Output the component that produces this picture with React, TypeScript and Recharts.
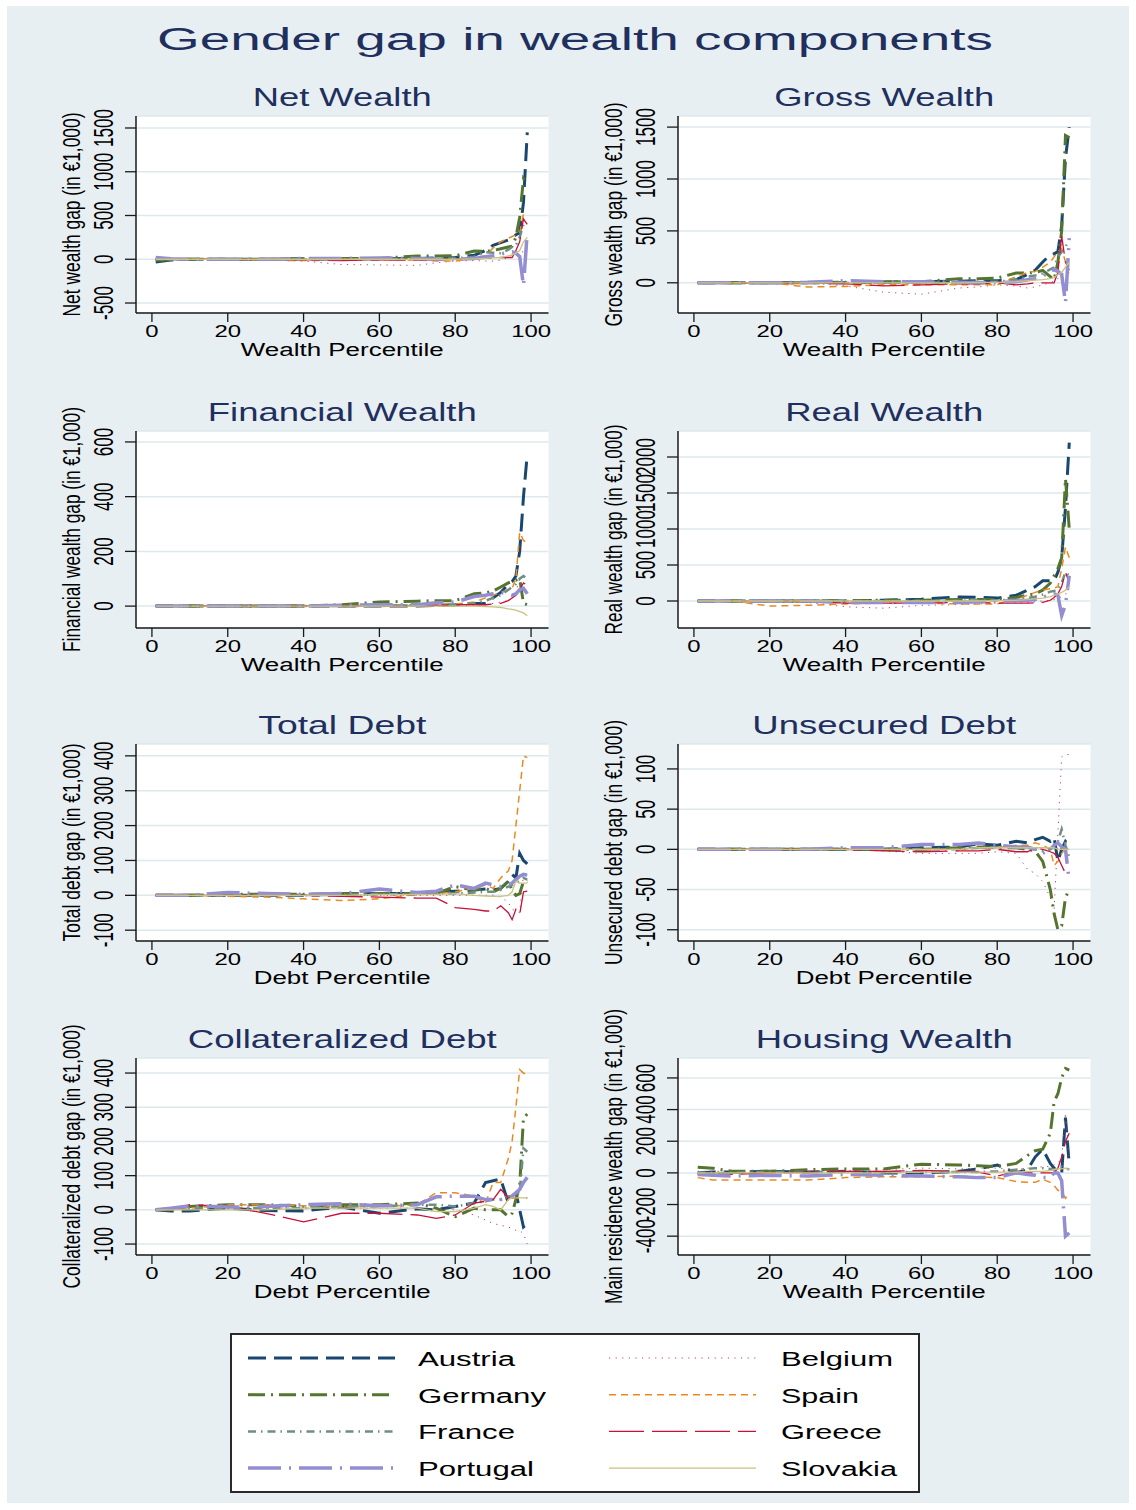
import React from 'react';
import { LineChart, Line, XAxis, YAxis, CartesianGrid } from 'recharts';

// Percentile grid shared by every panel
const PCT = [1, 5, 10, 20, 30, 40, 50, 60, 70, 75, 80, 85, 88, 90, 92, 94, 95, 96, 97, 98, 99];
const X_TICKS = [0, 20, 40, 60, 80, 100];

// Drawing order of the country series
const COUNTRIES = ['Austria', 'Belgium', 'Germany', 'Spain', 'France', 'Greece', 'Portugal', 'Slovakia'];

type Table = Record<string, number[]>;

// Gender gap in net wealth (in €1,000) by wealth percentile
const netWealth: Table = {
  Austria: [-30, -8, 0, 0, 0, 5, 0, 5, 10, 15, 20, 45, 100, 160, 190, 220, 250, 280, 300, 650, 1450],
  Belgium: [0, 0, 0, 0, -10, -20, -60, -65, -70, -40, -20, -15, -20, -20, -10, 20, 50, 80, 100, 80, 60],
  Germany: [-10, -5, 0, 0, 0, 5, 10, 10, 38, 38, 40, 95, 90, 100, 120, 140, 150, 250, 480, 920, 850],
  Spain: [0, 0, 0, 0, -10, -15, -10, -5, -10, -20, -20, 10, 40, 130, 200, 240, 260, 280, 300, 520, 500],
  France: [0, 0, 0, 0, 0, 0, 0, 0, 5, 10, 10, 30, 80, 75, 70, 110, 140, 160, 250, 400, 420],
  Greece: [0, 0, 0, 0, 0, -5, -15, -5, -10, -5, 0, 5, 10, 15, 20, 20, 20, 100, 200, 460, 400],
  Portugal: [20, 5, 0, 0, 0, 10, 10, 15, 10, 0, 0, 10, 30, 40, 60, 80, 85, 70, 30, -300, 310],
  Slovakia: [0, 0, 0, 0, 0, 0, 0, 0, 0, 0, 0, 5, 10, 15, 20, 40, 50, 70, 100, 200, 250],
};

const grossWealth: Table = {
  Austria: [0, 0, 0, 0, 0, 0, 5, 10, 15, 20, 20, 30, 80, 120, 200, 270, 280, 300, 550, 1200, 1500],
  Belgium: [0, 0, 0, 0, 0, -30, -90, -110, -50, -40, -20, -30, -50, -40, -20, 0, 20, 40, 80, 100, 100],
  Germany: [0, 0, 0, 0, 0, 5, 10, 10, 40, 40, 45, 95, 95, 100, 120, 60, 30, 200, 500, 1420, 1400],
  Spain: [0, 0, 0, 0, -40, -35, -20, -20, -20, -20, -20, 60, 100, 110, 150, 200, 250, 300, 330, 200, 150],
  France: [0, 0, 0, 0, 0, 0, 0, 0, 5, 10, 10, 30, 60, 70, 90, 130, 150, 250, 300, 350, 400],
  Greece: [0, 0, 0, 0, 0, -10, -30, -20, -10, -10, 0, -20, -10, 0, 0, 0, 0, 100, 450, 200, 120],
  Portugal: [0, 0, 0, 0, 5, 20, 10, 10, 5, 0, 0, 10, 30, 40, 60, 120, 125, 110, 80, -190, 430],
  Slovakia: [0, 0, 0, 0, 0, 0, 0, 0, 0, 5, 5, 10, 20, 25, 30, 40, 50, 80, 100, 150, 200],
};

const financialWealth: Table = {
  Austria: [0, 0, 0, 0, 0, 0, 0, 0, 0, 3, 5, 10, 10, 30, 50, 80, 90, 110, 200, 400, 555],
  Belgium: [0, 0, 0, 0, 0, 0, 0, 0, 0, 0, 0, 3, 5, 10, 15, 20, 30, 50, 100, 110, 100],
  Germany: [0, 0, 0, 0, 0, 0, 5, 15, 18, 20, 20, 45, 48, 55, 70, 85, 90, 95, 100, 10, 5],
  Spain: [0, 0, 0, 0, 0, 0, 0, 0, 3, 5, 8, 15, 30, 40, 50, 60, 65, 100, 270, 240, 230],
  France: [0, 0, 0, 0, 0, 0, 0, 0, 3, 5, 5, 10, 20, 30, 40, 60, 70, 80, 100, 110, 100],
  Greece: [0, 0, 0, 0, 0, 0, 0, 0, 0, 3, 5, 5, 5, 8, 10, 20, 30, 40, 60, 85, 75],
  Portugal: [0, 0, 0, 0, 0, 0, 3, 5, 5, 12, 15, 35, 40, 45, 50, 45, 40, 45, 60, 65, 45],
  Slovakia: [0, 0, 0, 0, 0, 0, 0, 0, 0, 0, 0, 0, -2, -3, -5, -10, -12, -15, -20, -25, -35],
};

const realWealth: Table = {
  Austria: [0, 0, 0, 0, 0, 0, 10, 25, 55, 50, 40, 80, 150, 200, 280, 280, 280, 400, 600, 1300, 2200],
  Belgium: [0, 0, 0, 0, -20, -80, -100, -60, -50, -40, -30, -20, -20, -10, 0, 10, 20, 40, 60, 100, 100],
  Germany: [0, 0, 0, 0, 0, 5, 10, 10, 20, 20, 20, 50, 80, 100, 150, 250, 350, 450, 600, 1700, 1000],
  Spain: [0, 0, 0, -70, -60, -40, -30, -30, -40, -40, -40, 20, 80, 120, 150, 170, 180, 200, 450, 750, 600],
  France: [0, 0, 0, 0, 0, 0, 0, 0, 5, 10, 10, 20, 40, 60, 90, 130, 140, 150, 250, 400, 350],
  Greece: [0, 0, 0, 0, -10, -30, -30, -30, -20, -20, -30, -30, -30, -25, -20, 10, 50, 100, 200, 400, 250],
  Portugal: [0, 0, 0, 0, 0, -20, -20, -20, -20, -10, 0, 5, 10, 20, 50, 90, 100, 80, -200, -50, 350],
  Slovakia: [0, 0, 0, 0, 0, 0, 0, 0, 0, 0, 5, 10, 20, 30, 40, 60, 80, 100, 120, 150, 200],
};

// Debt panels use debt percentiles on the horizontal axis
const totalDebt: Table = {
  Austria: [0, 0, 0, 0, 0, 0, 3, 5, 5, 10, 12, 15, 18, 15, 20, 40, 60, 50, 120, 100, 90],
  Belgium: [0, 0, 0, 0, 0, 0, 0, 0, 0, 0, 0, 0, 0, 0, -5, -20, -40, -45, -50, 60, 70],
  Germany: [0, 0, 0, 3, 3, 3, 5, 5, 5, 5, 25, 15, 20, 10, 20, 40, 15, 0, 5, 40, 40],
  Spain: [0, 0, 0, -3, -5, -10, -15, -10, 3, 5, 10, 20, 30, 20, 50, 70, 100, 200, 300, 400, 395],
  France: [0, 0, 0, 0, 0, 0, 2, 3, 3, 5, 5, 8, 10, 10, 15, 25, 30, 35, 40, 50, 45],
  Greece: [0, 0, 0, 0, 0, 0, -3, -5, -8, -8, -35, -40, -45, -45, -30, -50, -70, -40, -55, 10, 12],
  Portugal: [0, 0, 0, 8, 5, 3, 5, 18, 8, 12, 30, 20, 35, 30, 25, 30, 35, 45, 55, 60, 58],
  Slovakia: [0, 0, 0, 0, 0, 0, 0, 3, 3, 3, 5, 0, -2, -3, -3, 0, 10, 40, 35, 35, 35],
};

const unsecuredDebt: Table = {
  Austria: [0, 0, 0, 0, 0, 0, 0, 2, 3, 7, 5, 10, 8, 12, 15, 10, 15, -15, 0, 10, 5],
  Belgium: [0, 0, 0, 0, 0, 0, -2, -5, -5, -5, -3, -5, -25, -30, -40, -60, -75, 20, 115, 118, 118],
  Germany: [0, 0, 0, 0, 0, 0, 0, 0, 2, 3, 2, 2, 0, -2, -15, -50, -80, -100, -95, -60, -50],
  Spain: [0, 0, 0, 0, 0, 0, 0, 0, 0, 2, 2, 5, 5, 8, 5, 0, -20, -15, -5, 0, 0],
  France: [0, 0, 0, 0, 0, 0, 0, 0, 0, 2, 3, 3, 2, 0, -2, 0, 5, 10, 25, 5, -10],
  Greece: [0, 0, 0, 0, 0, 0, -2, -3, -2, -2, 0, -3, -3, 2, 0, -3, -5, -10, -20, -30, -32],
  Portugal: [0, 0, 0, 0, 0, 2, 2, 6, 6, 8, 5, 3, 3, 0, -5, 0, 5, 8, 3, 0, -40],
  Slovakia: [0, 0, 0, 0, 0, 0, 0, 0, 0, 2, 2, 2, 2, 2, 2, 2, 2, 0, 0, 0, 0],
};

const collateralizedDebt: Table = {
  Austria: [0, -3, -3, 5, -2, -3, 8, -10, 3, 0, 10, 20, 80, 85, 90, 20, 40, 50, 0, -50, -40],
  Belgium: [0, 0, 5, 5, 5, 5, 5, 5, 5, 5, 0, -15, -30, -40, -45, -50, -55, -60, -60, -70, -100],
  Germany: [0, 0, 10, 15, 15, 10, 15, 15, 20, 5, -20, 5, 0, 0, 0, -20, -10, 30, 70, 270, 280],
  Spain: [0, 0, 5, 15, 15, 12, 10, 10, 15, 50, 50, 40, 20, 80, 80, 150, 200, 300, 410, 400, 395],
  France: [0, 5, 5, 5, 5, 5, 10, 10, 15, 15, 10, 20, 25, 30, 30, 40, 40, 45, 50, 180, 170],
  Greece: [0, 0, 15, 10, -10, -35, -10, -10, -15, -25, -15, 20, 25, 30, 60, 35, 35, 35, 35, 35, 35],
  Portugal: [0, 5, 12, 8, 10, 15, 18, 12, 15, 38, 40, 40, 30, 30, 30, 35, 40, 50, 60, 80, 95],
  Slovakia: [0, 0, 0, 0, 0, 5, 5, 5, 5, -5, -5, 5, 15, 10, 0, 30, 35, 35, 35, 35, 35],
};

const housingWealth: Table = {
  Austria: [0, 5, 5, 10, 5, 10, 0, 0, 10, 25, 50, 0, 20, 100, 150, 60, 30, 10, 0, 350, 50],
  Belgium: [10, 10, 10, 10, 10, 15, 20, 30, 25, 30, 30, 20, 30, 30, 40, 40, 50, 60, 100, 380, 100],
  Germany: [35, 30, 10, 10, 20, 25, 25, 55, 50, 45, 40, 60, 110, 140, 150, 250, 450, 500, 600, 660, 650],
  Spain: [-30, -45, -45, -45, -45, -30, -25, -25, -20, -25, -30, -55, -60, -60, -40, -60, -80, -110, -120, -160, -130],
  France: [0, 0, 0, 5, 5, 5, 5, 5, 5, 5, 10, 20, 25, 30, 30, 25, 20, 30, 40, 30, 20],
  Greece: [-10, -10, -10, 0, 5, 10, 10, 15, 10, 5, -20, 10, 0, 0, 0, 0, 0, 30, 100, 200, 250],
  Portugal: [-10, -15, -20, -15, -20, -10, -15, -20, -25, -30, -30, 0, -10, -15, -30, -30, 0, 0, -50, -400, -380],
  Slovakia: [0, 0, 0, 0, 0, 0, 0, 5, 5, 5, 5, 5, 10, 10, 10, 15, 20, 25, 25, 30, 20],
};

// Line styles per country (Stata s2color look)
const SERIES_STYLE: Record<string, { color: string; width: number; dash?: string }> = {
  Austria: { color: '#1a476f', width: 3, dash: '18 8' },
  Belgium: { color: '#b8485a', width: 1, dash: '1.2 5.4' },
  Germany: { color: '#55752f', width: 3, dash: '17 6 2 6' },
  Spain: { color: '#ea8a1e', width: 1.5, dash: '7 5' },
  France: { color: '#6e8e84', width: 2.5, dash: '8 5 1.5 5' },
  Greece: { color: '#c8103a', width: 1.3, dash: '35 8' },
  Portugal: { color: '#938dd2', width: 3.5, dash: '33 8 2 8' },
  Slovakia: { color: '#cac27e', width: 1.3 },
};

// Legend layout: two columns, row-wise
const LEGEND_ROWS = [
  ['Austria', 'Belgium'],
  ['Germany', 'Spain'],
  ['France', 'Greece'],
  ['Portugal', 'Slovakia'],
];
const LEGEND_LABEL_LEN: Record<string, number> = {
  Austria: 97, Germany: 128, France: 97, Portugal: 116,
  Belgium: 112, Spain: 78, Greece: 101, Slovakia: 116,
};

const FONT = "'Liberation Sans', Arial, Helvetica, sans-serif";
const NAVY = '#1f2f5e';

const COL_X = [136, 678];
const ROW_Y = [116, 431, 744, 1058];
const PLOT_W = 412.5;
const PLOT_H = 197;
const X_DOMAIN: [number, number] = [-4.2, 104.6];

type PanelCfg = {
  title: string; titleLen: number;
  yLabel: string; yLabelLen: number;
  xLabel: string; xLabelLen: number;
  data: Table; domain: [number, number]; ticks: number[];
  col: number; row: number;
};

const PANELS: PanelCfg[] = [
  { title: 'Net Wealth', titleLen: 179, yLabel: 'Net wealth gap (in €1,000)', yLabelLen: 204, xLabel: 'Wealth Percentile', xLabelLen: 203, data: netWealth, domain: [-614, 1637], ticks: [-500, 0, 500, 1000, 1500], col: 0, row: 0 },
  { title: 'Gross Wealth', titleLen: 220, yLabel: 'Gross wealth gap (in €1,000)', yLabelLen: 224, xLabel: 'Wealth Percentile', xLabelLen: 203, data: grossWealth, domain: [-291, 1607], ticks: [0, 500, 1000, 1500], col: 1, row: 0 },
  { title: 'Financial Wealth', titleLen: 269, yLabel: 'Financial wealth gap (in €1,000)', yLabelLen: 245, xLabel: 'Wealth Percentile', xLabelLen: 203, data: financialWealth, domain: [-80, 640], ticks: [0, 200, 400, 600], col: 0, row: 1 },
  { title: 'Real Wealth', titleLen: 198, yLabel: 'Real wealth gap (in €1,000)', yLabelLen: 210, xLabel: 'Wealth Percentile', xLabelLen: 203, data: realWealth, domain: [-375, 2361], ticks: [0, 500, 1000, 1500, 2000], col: 1, row: 1 },
  { title: 'Total Debt', titleLen: 168, yLabel: 'Total debt gap (in €1,000)', yLabelLen: 198, xLabel: 'Debt Percentile', xLabelLen: 177, data: totalDebt, domain: [-131, 434], ticks: [-100, 0, 100, 200, 300, 400], col: 0, row: 2 },
  { title: 'Unsecured Debt', titleLen: 264, yLabel: 'Unsecured debt gap (in €1,000)', yLabelLen: 245, xLabel: 'Debt Percentile', xLabelLen: 177, data: unsecuredDebt, domain: [-114, 131], ticks: [-100, -50, 0, 50, 100], col: 1, row: 2 },
  { title: 'Collateralized Debt', titleLen: 309, yLabel: 'Collateralized debt gap (in €1,000)', yLabelLen: 264, xLabel: 'Debt Percentile', xLabelLen: 177, data: collateralizedDebt, domain: [-132, 444], ticks: [-100, 0, 100, 200, 300, 400], col: 0, row: 3 },
  { title: 'Housing Wealth', titleLen: 257, yLabel: 'Main residence wealth gap (in €1,000)', yLabelLen: 295, xLabel: 'Wealth Percentile', xLabelLen: 203, data: housingWealth, domain: [-519, 726], ticks: [-400, -200, 0, 200, 400, 600], col: 1, row: 3 },
];

// Length of a numeric label drawn in the wide display font
function numLen(label: string, digitW: number, minusW: number) {
  let n = 0;
  for (const ch of label) n += ch === '-' ? minusW : digitW;
  return n;
}

function SText(props: {
  x: number; y: number; text: string; size: number; len?: number;
  anchor?: 'start' | 'middle' | 'end'; rotate?: number; fill?: string;
}) {
  const { x, y, text, size, len, anchor = 'middle', rotate = 0, fill = '#000' } = props;
  return (
    <text
      x={0}
      y={0}
      transform={`translate(${x},${y})${rotate ? ` rotate(${rotate})` : ''}`}
      fontSize={size}
      fontFamily={FONT}
      textAnchor={anchor}
      fill={fill}
      textLength={len}
      lengthAdjust={len ? 'spacingAndGlyphs' : undefined}
    >
      {text}
    </text>
  );
}

const M_LEFT = 10;
const Y_W = 60;
const M_TOP = 30;
const X_H = 40;
const M_RIGHT = 5;

function Panel({ cfg }: { cfg: PanelCfg }) {
  const left = COL_X[cfg.col];
  const top = ROW_Y[cfg.row];
  const rows = PCT.map((p, i) => {
    const r: Record<string, number> = { p };
    COUNTRIES.forEach((c) => { r[c] = cfg.data[c][i]; });
    return r;
  });
  const axisStroke = { stroke: '#1a1a1a', strokeWidth: 1.5 };
  const tickStroke = { stroke: '#1a1a1a', strokeWidth: 1.3 };

  const renderYTick = (p: any) => {
    const label = String(p.payload.value);
    return (
      <SText
        x={M_LEFT + Y_W - 23}
        y={p.y}
        text={label}
        size={27}
        len={numLen(label, 9.5, 5.5)}
        rotate={-90}
      />
    );
  };
  const renderXTick = (p: any) => {
    const label = String(p.payload.value);
    return (
      <SText x={p.x} y={M_TOP + PLOT_H + 24} text={label} size={17} len={numLen(label, 13.3, 7)} />
    );
  };

  return (
    <div style={{ position: 'absolute', left: left - M_LEFT - Y_W, top: top - M_TOP }}>
      <LineChart
        width={PLOT_W + M_LEFT + Y_W + M_RIGHT}
        height={PLOT_H + M_TOP + X_H}
        data={rows}
        margin={{ top: M_TOP, right: M_RIGHT, bottom: 0, left: M_LEFT }}
      >
        <CartesianGrid vertical={false} fill="#ffffff" fillOpacity={1} stroke="#dde8ec" strokeWidth={1.5} />
        <XAxis
          type="number"
          dataKey="p"
          domain={X_DOMAIN}
          ticks={X_TICKS}
          allowDataOverflow
          interval={0}
          height={X_H}
          tickSize={9}
          axisLine={axisStroke}
          tickLine={tickStroke}
          tick={renderXTick}
        />
        <YAxis
          type="number"
          domain={cfg.domain}
          ticks={cfg.ticks}
          allowDataOverflow
          interval={0}
          width={Y_W}
          tickSize={11}
          axisLine={axisStroke}
          tickLine={tickStroke}
          tick={renderYTick}
        />
        {COUNTRIES.map((c) => {
          const s = SERIES_STYLE[c];
          return (
            <Line
              key={c}
              type="linear"
              dataKey={c}
              stroke={s.color}
              strokeWidth={s.width}
              strokeDasharray={s.dash}
              dot={false}
              activeDot={false}
              isAnimationActive={false}
            />
          );
        })}
      </LineChart>
    </div>
  );
}

function Labels() {
  return (
    <svg
      width={1136}
      height={1510}
      style={{ position: 'absolute', left: 0, top: 0, pointerEvents: 'none' }}
    >
      <SText x={575} y={50} text="Gender gap in wealth components" size={31} len={836} fill={NAVY} />
      {PANELS.map((cfg) => {
        const left = COL_X[cfg.col];
        const top = ROW_Y[cfg.row];
        const cx = left + PLOT_W / 2;
        const cy = top + PLOT_H / 2;
        return (
          <g key={cfg.title}>
            <SText x={cx} y={top - 10} text={cfg.title} size={25} len={cfg.titleLen} fill={NAVY} />
            <SText x={cx} y={top + PLOT_H + 43} text={cfg.xLabel} size={18} len={cfg.xLabelLen} />
            <SText x={left - 56} y={cy} text={cfg.yLabel} size={23} len={cfg.yLabelLen} rotate={-90} />
          </g>
        );
      })}
      {/* Legend */}
      <rect x={231} y={1334} width={688} height={158} fill="#ffffff" stroke="#2a2a2a" strokeWidth={2} />
      {LEGEND_ROWS.map((pair, ri) => {
        const y = 1358 + ri * 36.7;
        return pair.map((c, ci) => {
          const s = SERIES_STYLE[c];
          const x0 = ci === 0 ? 248 : 609;
          const tx = ci === 0 ? 418 : 781;
          return (
            <g key={c}>
              <line x1={x0} y1={y} x2={x0 + 147} y2={y} stroke={s.color} strokeWidth={s.width} strokeDasharray={s.dash} />
              <SText x={tx} y={y + 8} text={c} size={20} len={LEGEND_LABEL_LEN[c]} anchor="start" />
            </g>
          );
        });
      })}
    </svg>
  );
}

export default function App() {
  return (
    <div style={{ position: 'absolute', left: 0, top: 0, width: 1136, height: 1510, background: '#ffffff' }}>
      <div style={{ position: 'absolute', left: 7, top: 6, width: 1122, height: 1497, background: '#e8eff2' }} />
      {PANELS.map((cfg) => (
        <Panel key={cfg.title} cfg={cfg} />
      ))}
      <Labels />
    </div>
  );
}
